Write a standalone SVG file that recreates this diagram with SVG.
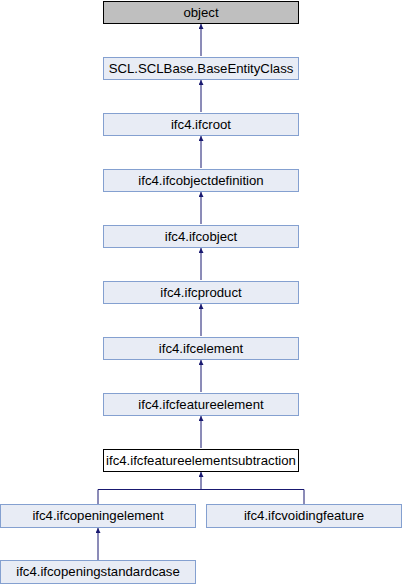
<svg xmlns="http://www.w3.org/2000/svg" width="402" height="584" viewBox="0 0 402 584">
<defs>
<style>
.n rect{fill:#e8ecf5;stroke:#84a0d0;stroke-width:1}
.n text{font-family:"Liberation Sans",Arial,sans-serif;font-size:13.2px;fill:#000;text-anchor:middle}
#n0 rect{fill:#bfbfbf;stroke:#000}
#n9 rect{fill:#fff;stroke:#000}
.e path{fill:none;stroke:#191970;stroke-width:1}
</style>
<marker id="ah" viewBox="0 0 10 10" refX="10" refY="5" markerWidth="6" markerHeight="5" orient="auto" markerUnits="userSpaceOnUse">
<path d="M0,0 L10,5 L0,10 z" fill="#191970"/>
</marker>
</defs>
<rect width="402" height="584" fill="#fff"/>
<g class="e">
<path d="M201,56 V24" marker-end="url(#ah)"/>
<path d="M201,112 V80" marker-end="url(#ah)"/>
<path d="M201,168 V136" marker-end="url(#ah)"/>
<path d="M201,224 V192" marker-end="url(#ah)"/>
<path d="M201,280 V248" marker-end="url(#ah)"/>
<path d="M201,336 V304" marker-end="url(#ah)"/>
<path d="M201,392 V360" marker-end="url(#ah)"/>
<path d="M201,448 V416" marker-end="url(#ah)"/>
<path d="M98,504 V489.5 H201 V472" marker-end="url(#ah)"/>
<path d="M304,504 V489.5 H201"/>
<path d="M98,560 V528" marker-end="url(#ah)"/>
</g>
<g id="n0" class="n"><rect x="103.5" y="1.5" width="195" height="22"/><text x="201" y="16.5">object</text></g>
<g id="n1" class="n"><rect x="103.5" y="57.5" width="195" height="22"/><text x="201" y="72.5">SCL.SCLBase.BaseEntityClass</text></g>
<g id="n2" class="n"><rect x="103.5" y="113.5" width="195" height="22"/><text x="201" y="128.5">ifc4.ifcroot</text></g>
<g id="n3" class="n"><rect x="103.5" y="169.5" width="195" height="22"/><text x="201" y="184.5">ifc4.ifcobjectdefinition</text></g>
<g id="n4" class="n"><rect x="103.5" y="225.5" width="195" height="22"/><text x="201" y="240.5">ifc4.ifcobject</text></g>
<g id="n5" class="n"><rect x="103.5" y="281.5" width="195" height="22"/><text x="201" y="296.5">ifc4.ifcproduct</text></g>
<g id="n6" class="n"><rect x="103.5" y="337.5" width="195" height="22"/><text x="201" y="352.5">ifc4.ifcelement</text></g>
<g id="n7" class="n"><rect x="103.5" y="393.5" width="195" height="22"/><text x="201" y="408.5">ifc4.ifcfeatureelement</text></g>
<g id="n9" class="n"><rect x="103.5" y="449.5" width="195" height="22"/><text x="201" y="464.5">ifc4.ifcfeatureelementsubtraction</text></g>
<g id="n10" class="n"><rect x="0.5" y="504.5" width="195" height="23"/><text x="98" y="520">ifc4.ifcopeningelement</text></g>
<g id="n11" class="n"><rect x="206.5" y="504.5" width="195" height="23"/><text x="304" y="520">ifc4.ifcvoidingfeature</text></g>
<g id="n12" class="n"><rect x="0.5" y="560.5" width="195" height="23"/><text x="98" y="576">ifc4.ifcopeningstandardcase</text></g>
</svg>
